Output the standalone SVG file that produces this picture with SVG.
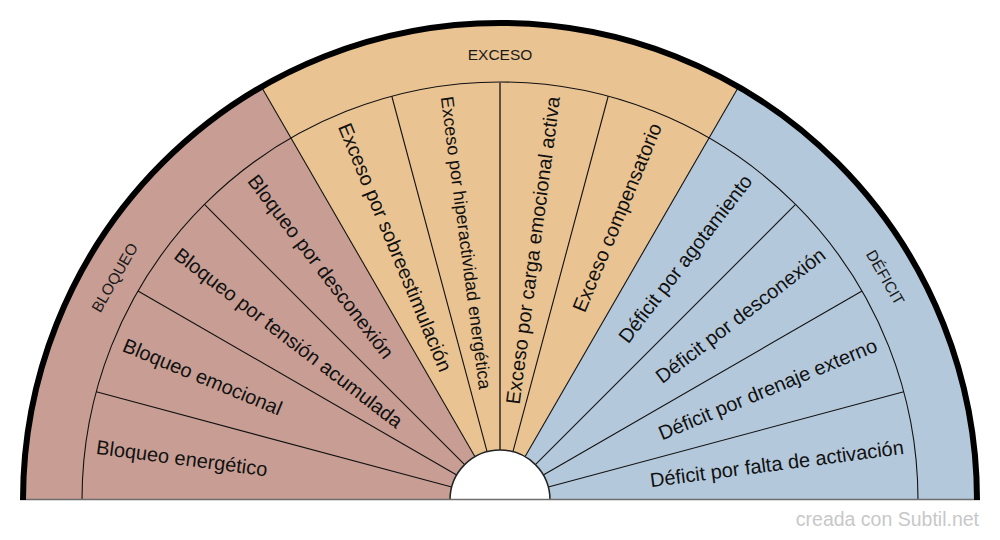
<svg xmlns="http://www.w3.org/2000/svg" width="1000" height="540" viewBox="0 0 1000 540">
<style>
.cat{font-family:"Liberation Sans",Arial,sans-serif;font-size:15.5px;fill:#1a1a1a;text-anchor:middle}
.it{font-family:"Liberation Sans",Arial,sans-serif;font-size:20px;fill:#111}
.l{text-anchor:start}
.r{text-anchor:end}
.sep{stroke:#111;stroke-width:1.1;fill:none}
</style>
<rect width="1000" height="540" fill="#fff"/>
<g id="bloqueo">
<path d="M23,500 A477,477 0 0 1 261.5,86.9 L475,456.7 A50,50 0 0 0 450,500 Z" fill="#c89e94"/>
<text class="cat" transform="translate(114.6,277.5) rotate(-60)" dy="0.35em">BLOQUEO</text>
</g>
<g id="exceso">
<path d="M261.5,86.9 A477,477 0 0 1 738.5,86.9 L525,456.7 A50,50 0 0 0 475,456.7 Z" fill="#eac392"/>
<text class="cat" transform="translate(500,55)" dy="0.35em">EXCESO</text>
</g>
<g id="deficit">
<path d="M738.5,86.9 A477,477 0 0 1 977,500 L550,500 A50,50 0 0 0 525,456.7 Z" fill="#b4c8db"/>
<text class="cat" transform="translate(885.4,277.5) rotate(60)" dy="0.35em">DÉFICIT</text>
</g>
<g id="connectors">
<path class="sep" d="M82,500 A418,418 0 0 1 918,500"/>
<line class="sep" x1="451.7" y1="487.06" x2="96.24" y2="391.81"/>
<line class="sep" x1="456.7" y1="475" x2="137.99" y2="291"/>
<line class="sep" x1="464.64" y1="464.64" x2="204.43" y2="204.43"/>
<line class="sep" x1="475" y1="456.7" x2="261.5" y2="86.9"/>
<line class="sep" x1="487.06" y1="451.7" x2="391.81" y2="96.24"/>
<line x1="500" y1="450" x2="500" y2="82" stroke="#5e4f3e" stroke-width="2"/>
<line class="sep" x1="512.94" y1="451.7" x2="608.19" y2="96.24"/>
<line class="sep" x1="525" y1="456.7" x2="738.5" y2="86.9"/>
<line class="sep" x1="535.36" y1="464.64" x2="795.57" y2="204.43"/>
<line class="sep" x1="543.3" y1="475" x2="862.01" y2="291"/>
<line class="sep" x1="548.3" y1="487.06" x2="903.76" y2="391.81"/>
<path d="M450,500 A50,50 0 0 1 550,500" fill="#fff" stroke="#222" stroke-width="1.5"/>
<line x1="20" y1="499.5" x2="980" y2="499.5" stroke="#6e6e6e" stroke-width="1.5"/>
<path d="M23,500 A477,477 0 0 1 977,500" fill="none" stroke="#000" stroke-width="6"/>
</g>
<g id="item-bloqueo-energetico"><text class="it l" transform="translate(96.5,446.9) rotate(7.5)" dy="0.35em">Bloqueo energético</text></g>
<g id="item-bloqueo-emocional"><text class="it l" transform="translate(124,344.2) rotate(22.5)" dy="0.35em">Bloqueo emocional</text></g>
<g id="item-bloqueo-tension"><text class="it l" transform="translate(177.1,252.2) rotate(37.5)" dy="0.35em">Bloqueo por tensión acumulada</text></g>
<g id="item-bloqueo-desconexion"><text class="it l" transform="translate(252.2,177.1) rotate(52.5)" dy="0.35em">Bloqueo por desconexión</text></g>
<g id="item-exceso-sobreestimulacion"><text class="it l" transform="translate(344.2,124) rotate(67.5)" dy="0.35em">Exceso por sobreestimulación</text></g>
<g id="item-exceso-hiperactividad"><text class="it l" transform="translate(446.9,96.5) rotate(82.5)" dy="0.35em" style="font-size:18px">Exceso por hiperactividad energética</text></g>
<g id="item-exceso-carga"><text class="it r" transform="translate(553.1,96.5) rotate(-82.5)" dy="0.35em">Exceso por carga emocional activa</text></g>
<g id="item-exceso-compensatorio"><text class="it r" transform="translate(655.8,124) rotate(-67.5)" dy="0.35em">Exceso compensatorio</text></g>
<g id="item-deficit-agotamiento"><text class="it r" transform="translate(747.8,177.1) rotate(-52.5)" dy="0.35em">Déficit por agotamiento</text></g>
<g id="item-deficit-desconexion"><text class="it r" transform="translate(822.9,252.2) rotate(-37.5)" dy="0.35em">Déficit por desconexión</text></g>
<g id="item-deficit-drenaje"><text class="it r" transform="translate(876,344.2) rotate(-22.5)" dy="0.35em">Déficit por drenaje externo</text></g>
<g id="item-deficit-activacion"><text class="it r" transform="translate(903.5,446.9) rotate(-7.5)" dy="0.35em">Déficit por falta de activación</text></g>
<text x="979" y="526" font-family="'Liberation Sans',Arial,sans-serif" font-size="19.5" fill="#c8c8c8" text-anchor="end">creada con Subtil.net</text>
</svg>
